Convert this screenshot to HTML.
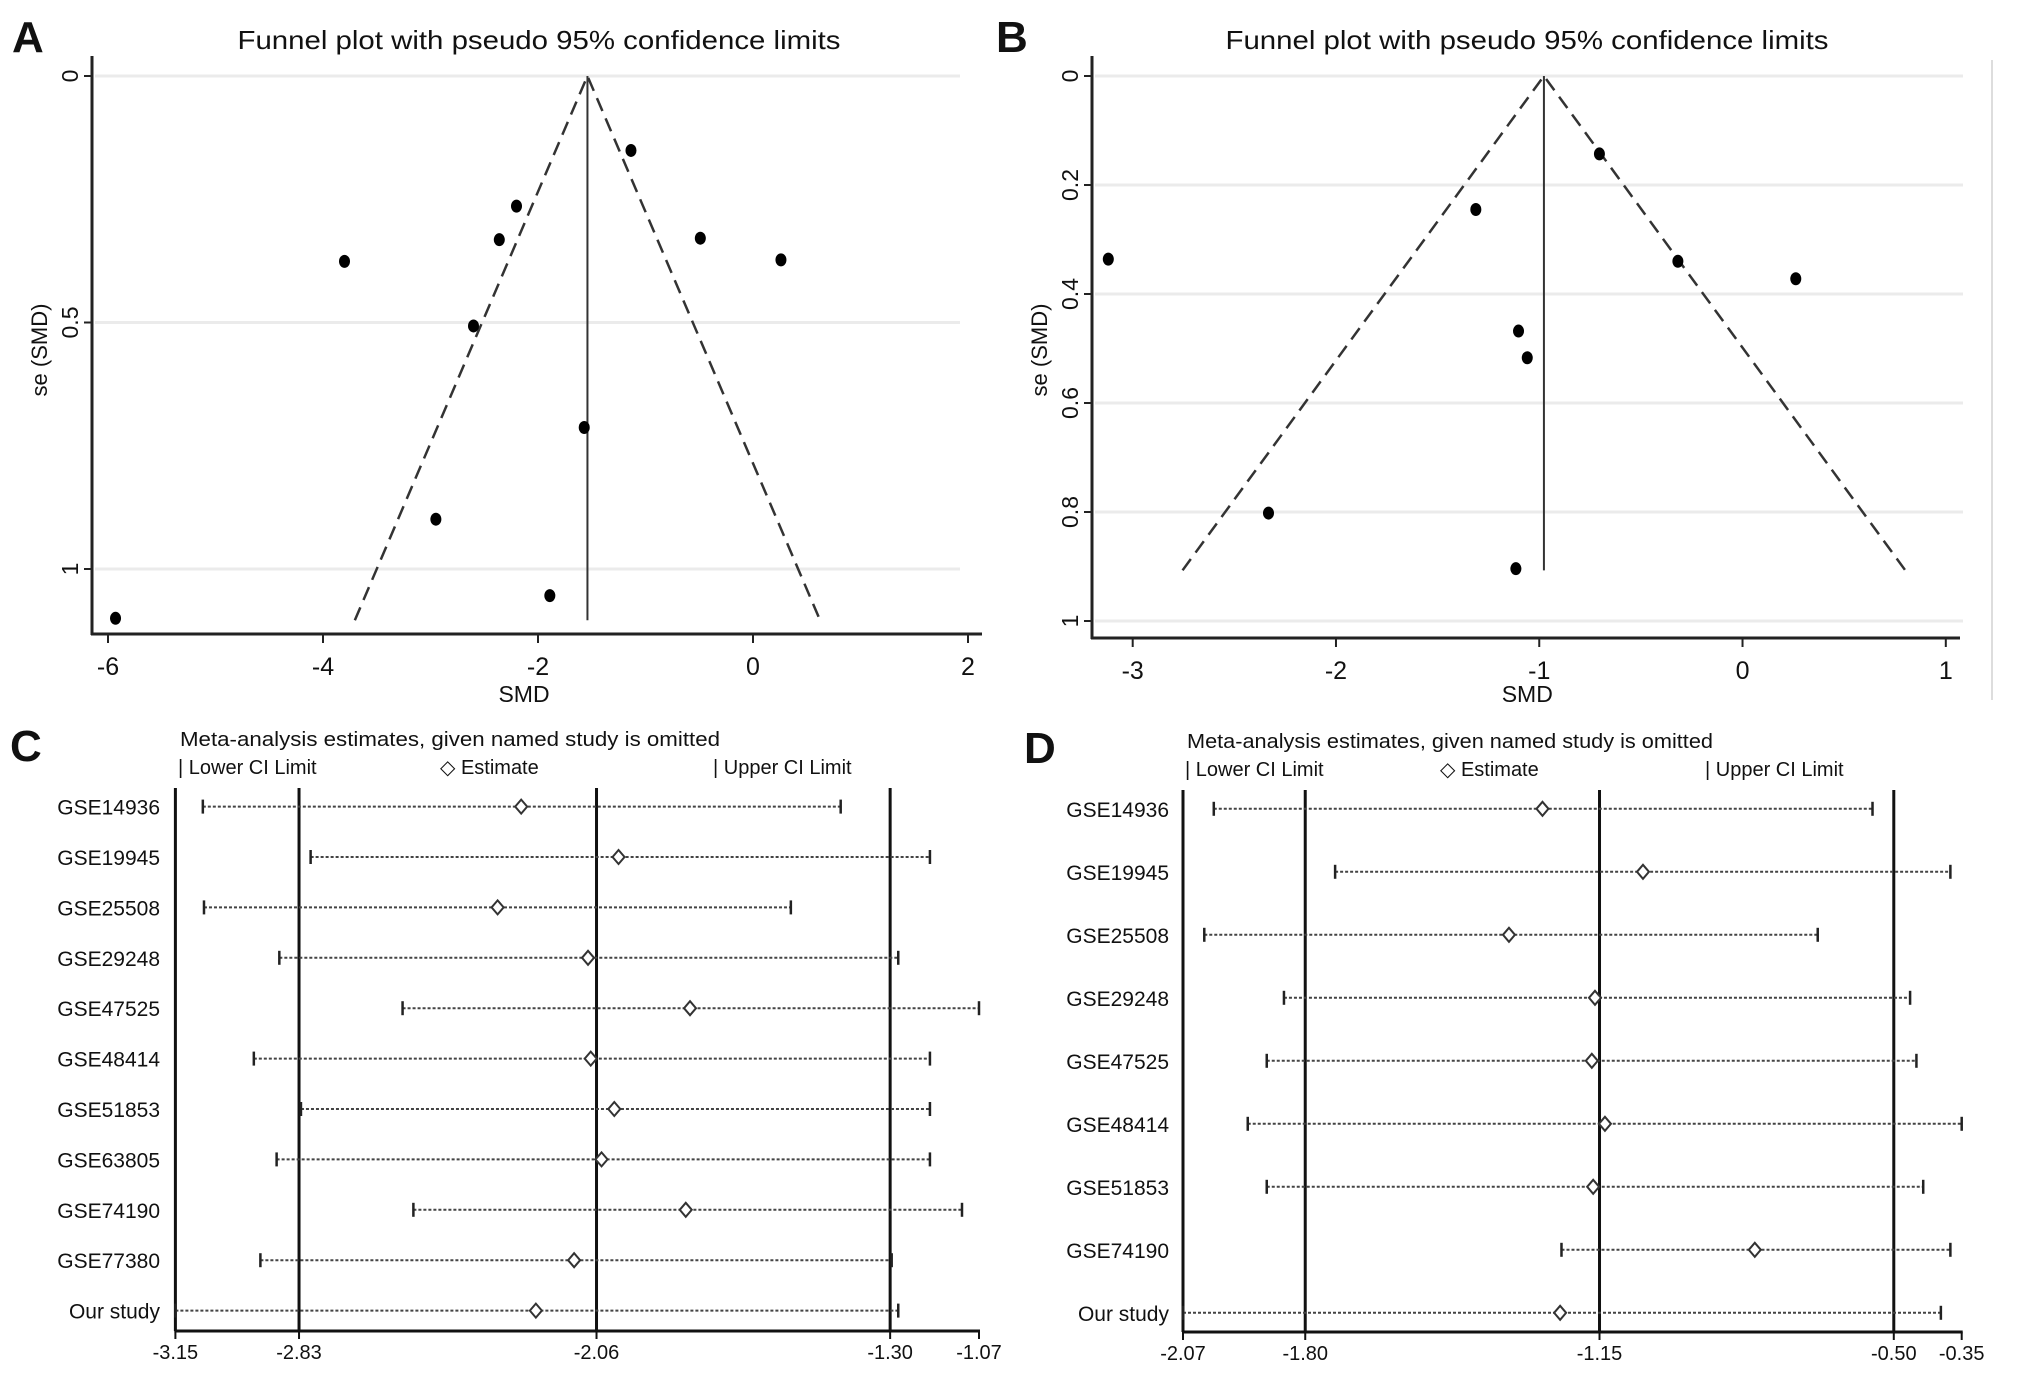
<!DOCTYPE html>
<html><head><meta charset="utf-8"><style>
html,body{margin:0;padding:0;background:#fff}
svg{display:block}
text{font-family:"Liberation Sans",Arial,sans-serif;fill:#111}
</style></head><body>
<svg id="fig" width="2031" height="1374" viewBox="0 0 2031 1374" xmlns="http://www.w3.org/2000/svg">
<rect width="2031" height="1374" fill="#fff"/>
</svg>
<script>
// Panel A funnel data
const aSmd = [-1.135, -2.20, -2.36, -3.80, -0.49, 0.26, -2.60, -1.57, -2.95, -1.89, -5.93];
const aSe  = [0.151, 0.264, 0.332, 0.376, 0.329, 0.373, 0.507, 0.713, 0.899, 1.054, 1.10];
const aPooled = -1.54;
const aSeMax = 1.104;
const aXTicks = [-6, -4, -2, 0, 2];
const aYTicks = [0, 0.5, 1];
const aYTickLabels = ["0", "0.5", "1"];
// Panel B funnel data
const bSmd = [-0.704, -1.312, -3.12, -0.318, 0.262, -1.102, -1.059, -2.332, -1.115];
const bSe  = [0.143, 0.245, 0.336, 0.340, 0.372, 0.468, 0.517, 0.802, 0.904];
const bPooled = -0.977;
const bSeMax = 0.907;
const bXTicks = [-3, -2, -1, 0, 1];
const bYTicks = [0, 0.2, 0.4, 0.6, 0.8, 1];
const bYTickLabels = ["0", "0.2", "0.4", "0.6", "0.8", "1"];
// Panel C sensitivity data
const cStudies = ["GSE14936","GSE19945","GSE25508","GSE29248","GSE47525","GSE48414","GSE51853","GSE63805","GSE74190","GSE77380","Our study"];
const cLower = [-3.079,-2.800,-3.076,-2.881,-2.562,-2.947,-2.825,-2.888,-2.534,-2.930,-3.150];
const cEst   = [-2.255,-2.003,-2.316,-2.082,-1.818,-2.075,-2.014,-2.047,-1.829,-2.118,-2.217];
const cUpper = [-1.428,-1.197,-1.557,-1.279,-1.070,-1.197,-1.197,-1.197,-1.114,-1.296,-1.279];
const cTicks = [-3.15,-2.83,-2.06,-1.30,-1.07];
const cTickLabels = ["-3.15","-2.83","-2.06","-1.30","-1.07"];
const cRefs = [-2.83,-2.06,-1.30];
// Panel D sensitivity data
const dStudies = ["GSE14936","GSE19945","GSE25508","GSE29248","GSE47525","GSE48414","GSE51853","GSE74190","Our study"];
const dLower = [-2.002,-1.734,-2.023,-1.847,-1.885,-1.927,-1.885,-1.234,-2.070];
const dEst   = [-1.276,-1.054,-1.350,-1.160,-1.167,-1.138,-1.164,-0.807,-1.237];
const dUpper = [-0.547,-0.375,-0.668,-0.464,-0.450,-0.350,-0.435,-0.375,-0.396];
const dTicks = [-2.07,-1.80,-1.15,-0.50,-0.35];
const dTickLabels = ["-2.07","-1.80","-1.15","-0.50","-0.35"];
const dRefs = [-1.80,-1.15,-0.50];

const NS="http://www.w3.org/2000/svg";
const svg=document.getElementById('fig');
function mk(tag,attrs,parent){const e=document.createElementNS(NS,tag);for(const k in attrs)e.setAttribute(k,attrs[k]);(parent||svg).appendChild(e);return e;}
function txt(s,attrs,parent){const e=mk('text',attrs,parent);e.textContent=s;return e;}
function lin(d0,d1,r0,r1){return v=>r0+(v-d0)/(d1-d0)*(r1-r0);}

function funnel(o){
  const g=mk('g',{});
  
  
  const x=lin(o.xd[0],o.xd[1],o.xr[0],o.xr[1]);
  const y=lin(0,1,o.y0,o.y1);
  o.yt.forEach((t,i)=>{
    const l=mk('line',{x1:o.axX+3,x2:o.gridEnd,y1:y(t),y2:y(t),stroke:'#ebebeb','stroke-width':3},g);
    
    
    const tk=mk('line',{x1:o.axX-8,x2:o.axX,y1:y(t),y2:y(t),stroke:'#222','stroke-width':2},g);
    
    
    const tl=txt(o.ytl[i],{x:0,y:0,'font-size':23,'text-anchor':'middle',transform:`translate(${o.axX-22},${y(t)}) rotate(-90)`,dy:8},g);
    
    
  });
  const ya=mk('line',{x1:o.axX,x2:o.axX,y1:o.y0-20,y2:o.axY+1,stroke:'#222','stroke-width':3},g);
  
  
  const xa=mk('line',{x1:o.axX-1,x2:o.axEnd,y1:o.axY,y2:o.axY,stroke:'#222','stroke-width':3},g);
  
  
  o.xt.forEach(t=>{
    const tk=mk('line',{x1:x(t),x2:x(t),y1:o.axY,y2:o.axY+9,stroke:'#222','stroke-width':2},g);
    
    
    const tl=txt(String(t),{x:x(t),y:o.axY+41,'font-size':25,'text-anchor':'middle'},g);
    
    
  });
  const yb=y(o.seMax);
  const dl=mk('polyline',{points:`${x(o.pooled-1.96*o.seMax)},${yb} ${x(o.pooled)},${y(0)} ${x(o.pooled+1.96*o.seMax)},${yb}`,fill:'none',stroke:'#333','stroke-width':2.5,'stroke-dasharray':'14,8'},g);
  
  
  const vl=mk('line',{x1:x(o.pooled),x2:x(o.pooled),y1:y(0),y2:yb,stroke:'#333','stroke-width':2},g);
  
  
  o.smd.forEach((v,i)=>{
    const c=mk('ellipse',{cx:x(v),cy:y(o.se[i]),rx:5.5,ry:6.5,fill:'#000'},g);
    
    
  });
  const t=txt('Funnel plot with pseudo 95% confidence limits',{x:o.titleX,y:49,'font-size':26,'text-anchor':'middle',textLength:603,lengthAdjust:'spacingAndGlyphs'},g);
  
  
  const xt=txt('SMD',{x:(x(o.xd[0])+x(o.xd[1]))/2-(o.name==='panel-a'?14:12),y:702,'font-size':23,'text-anchor':'middle'},g);
  
  
  const yt=txt('se (SMD)',{x:0,y:0,'font-size':22,'text-anchor':'middle',transform:`translate(${o.axX-53},${o.ytY}) rotate(-90)`,dy:8},g);
  
  
  const pl=txt(o.letter,{x:o.letterX,y:52,'font-size':44,'font-weight':'bold'},g);
  
  
}

funnel({name:'panel-a',letter:'A',letterX:12,xd:[-6,2],xr:[108,968],y0:76,y1:569,axX:92,axY:634,axEnd:982,gridEnd:960,
  xt:aXTicks,yt:aYTicks,ytl:aYTickLabels,smd:aSmd,se:aSe,pooled:aPooled,seMax:aSeMax,titleX:539,ytY:350});
funnel({name:'panel-b',letter:'B',letterX:996,xd:[-3,1],xr:[1132.7,1945.8],y0:76,y1:621,axX:1092,axY:638,axEnd:1960,gridEnd:1963,
  xt:bXTicks,yt:bYTicks,ytl:bYTickLabels,smd:bSmd,se:bSe,pooled:bPooled,seMax:bSeMax,titleX:1527,ytY:350});
{const l=mk('line',{x1:1992,x2:1992,y1:60,y2:700,stroke:'#ddd','stroke-width':2});

}

function forest(o){
  const g=mk('g',{});
  
  
  const x=lin(o.xd[0],o.xd[1],o.xr[0],o.xr[1]);
  const rowY=i=>o.row0+i*o.rowStep;
  o.refs.forEach(r=>{
    const l=mk('line',{x1:x(r),x2:x(r),y1:o.top,y2:o.axY,stroke:'#111','stroke-width':3},g);
    
    
  });
  const ya=mk('line',{x1:x(o.xd[0]),x2:x(o.xd[0]),y1:o.top,y2:o.axY,stroke:'#111','stroke-width':3},g);
  
  
  const xa=mk('line',{x1:x(o.xd[0])-1,x2:x(o.xd[1])+1,y1:o.axY,y2:o.axY,stroke:'#111','stroke-width':3},g);
  
  
  o.ticks.forEach((t,i)=>{
    const tk=mk('line',{x1:x(t),x2:x(t),y1:o.axY,y2:o.axY+8,stroke:'#111','stroke-width':2},g);
    
    
    const tl=txt(o.tickLabels[i],{x:x(t),y:o.axY+28,'font-size':20,'text-anchor':'middle'},g);
    
    
  });
  o.studies.forEach((s,i)=>{
    const yy=rowY(i);
    const lab=txt(s,{x:o.labelX,y:yy+8,'font-size':21,'text-anchor':'end'},g);
    
    
    const ci=mk('line',{x1:x(o.lower[i]),x2:x(o.upper[i]),y1:yy,y2:yy,stroke:'#444','stroke-width':2,'stroke-dasharray':'3,2'},g);
    
    
    [o.lower[i],o.upper[i]].forEach(v=>{
      const c=mk('line',{x1:x(v),x2:x(v),y1:yy-7,y2:yy+7,stroke:'#222','stroke-width':2.5},g);
      
      
    });
    const ex=x(o.est[i]);
    const d=mk('polygon',{points:`${ex},${yy-7} ${ex+6},${yy} ${ex},${yy+7} ${ex-6},${yy}`,fill:'#fff',stroke:'#333','stroke-width':2},g);
    
    
  });
  const h=txt('Meta-analysis estimates, given named study is omitted',{x:o.headX,y:o.headY,'font-size':20,textLength:o.headW,lengthAdjust:'spacingAndGlyphs'},g);
  
  
  const l1=txt('| Lower CI Limit',{x:o.lgX[0],y:o.headY+28,'font-size':20},g);
  
  
  const l2=txt('◇ Estimate',{x:o.lgX[1],y:o.headY+28,'font-size':20},g);
  
  
  const l3=txt('| Upper CI Limit',{x:o.lgX[2],y:o.headY+28,'font-size':20},g);
  
  
  const pl=txt(o.letter,{x:o.letterX,y:o.letterY,'font-size':44,'font-weight':'bold'},g);
  
  
}

forest({name:'panel-c',letter:'C',letterX:10,letterY:761,xd:[-3.15,-1.07],xr:[175.4,979],top:788,axY:1331,row0:806.6,rowStep:50.4,
  refs:cRefs,ticks:cTicks,tickLabels:cTickLabels,studies:cStudies,lower:cLower,est:cEst,upper:cUpper,labelX:160,
  headX:180,headY:746,headW:540,lgX:[178,440,713]});
forest({name:'panel-d',letter:'D',letterX:1024,letterY:763,xd:[-2.07,-0.35],xr:[1183,1961.7],top:790,axY:1332,row0:808.8,rowStep:63.0,
  refs:dRefs,ticks:dTicks,tickLabels:dTickLabels,studies:dStudies,lower:dLower,est:dEst,upper:dUpper,labelX:1169,
  headX:1187,headY:748,headW:526,lgX:[1185,1440,1705]});
</script>
</body></html>
